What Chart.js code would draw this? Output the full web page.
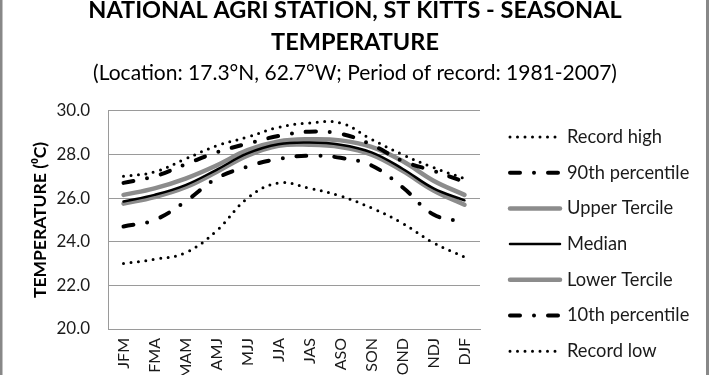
<!DOCTYPE html>
<html>
<head>
<meta charset="utf-8">
<script src="https://cdn.jsdelivr.net/npm/chart.js@4.4.1/dist/chart.umd.min.js"></script>
<style>
    html, body { margin: 0; padding: 0; background: #fff; overflow: hidden; }
    #wrap { width: 710px; height: 375px; overflow: hidden; }
    #chart { display: block; margin-top: -12px; }
</style>
</head>
<body>
<div id="wrap"><canvas id="chart" width="710" height="420"></canvas></div>
<script>
// seasons (3-month windows)
var seasons = ['JFM', 'FMA', 'MAM', 'AMJ', 'MJJ', 'JJA', 'JAS', 'ASO', 'SON', 'OND', 'NDJ', 'DJF'];

// temperatures in degC
var recordHigh   = [27.0, 27.2, 27.8, 28.4, 28.8, 29.25, 29.45, 29.45, 28.7, 28.0, 27.4, 26.9];
var pct90        = [26.7, 27.0, 27.55, 28.1, 28.5, 28.85, 29.05, 28.95, 28.45, 27.7, 27.25, 26.75];
var upperTercile = [26.15, 26.45, 26.9, 27.5, 28.2, 28.6, 28.7, 28.65, 28.35, 27.7, 26.8, 26.15];
var median       = [25.85, 26.15, 26.6, 27.3, 28.05, 28.47, 28.55, 28.45, 28.1, 27.35, 26.45, 25.9];
var lowerTercile = [25.75, 26.05, 26.5, 27.2, 27.95, 28.4, 28.45, 28.35, 28.0, 27.25, 26.35, 25.7];
var pct10        = [24.7, 25.0, 25.85, 26.9, 27.45, 27.8, 27.95, 27.85, 27.5, 26.5, 25.25, 24.9];
var recordLow    = [23.0, 23.2, 23.5, 24.5, 26.0, 26.7, 26.45, 26.1, 25.55, 24.85, 23.95, 23.3];

var yTicks = [20, 22, 24, 26, 28, 30];

var FONT = 'Lato, "Open Sans", sans-serif';
var GRID = '#9a9a9a';
var TERCILE = '#8c8c8c';

var dotted = [0, 7.5];
var dashDot = [10, 14, 0, 14];

function series(label, data, color, width, dash, order) {
    return {
        label: label,
        data: data,
        borderColor: color,
        borderWidth: width,
        borderDash: dash,
        borderCapStyle: 'round',
        borderJoinStyle: 'round',
        pointRadius: 0,
        pointHoverRadius: 0,
        tension: 0.4,
        fill: false,
        order: order
    };
}

// legend drawn by hand so it sits where the original one is
var sideLegend = {
    id: 'sideLegend',
    afterDraw: function (chart) {
        var ctx = chart.ctx;
        var x0 = 510, x1 = 560, tx = 567;
        var y = 149, step = 35.7;
        ctx.save();
        ctx.font = '18.3px ' + FONT;
        ctx.textBaseline = 'middle';
        chart.data.datasets.forEach(function (ds, i) {
            var yy = y + i * step;
            ctx.beginPath();
            ctx.setLineDash(ds.borderDash || []);
            ctx.lineCap = ds.borderCapStyle;
            ctx.lineWidth = ds.borderWidth;
            ctx.strokeStyle = ds.borderColor;
            ctx.moveTo(x0, yy);
            ctx.lineTo(x1, yy);
            ctx.stroke();
            ctx.setLineDash([]);
            ctx.fillStyle = '#1a1a1a';
            ctx.fillText(ds.label, tx, yy);
        });
        ctx.restore();
    }
};

// chart area frame (only the sides show in the original crop)
var frame = {
    id: 'frame',
    beforeDraw: function (chart) {
        var ctx = chart.ctx;
        ctx.save();
        ctx.fillStyle = '#fff';
        ctx.fillRect(0, 0, chart.width, chart.height);
        ctx.fillStyle = '#888';
        ctx.fillRect(0, 0, 2.5, chart.height);
        ctx.fillRect(706, 0, 3, chart.height);
        ctx.restore();
    }
};

new Chart(document.getElementById('chart').getContext('2d'), {
    type: 'line',
    data: {
        labels: seasons,
        datasets: [
            series('Record high', recordHigh, '#000', 3, dotted, 1),
            series('90th percentile', pct90, '#000', 4, dashDot, 1),
            series('Upper Tercile', upperTercile, TERCILE, 4.5, [], 2),
            series('Median', median, '#000', 2.5, [], 0),
            series('Lower Tercile', lowerTercile, TERCILE, 4.5, [], 2),
            series('10th percentile', pct10, '#000', 4, dashDot, 1),
            series('Record low', recordLow, '#000', 3, dotted, 1)
        ]
    },
    options: {
        responsive: false,
        animation: false,
        devicePixelRatio: 1,
        layout: {padding: 0},
        plugins: {
            legend: {display: false},
            tooltip: {enabled: false},
            title: {
                display: true,
                text: ['NATIONAL AGRI STATION, ST KITTS - SEASONAL', 'TEMPERATURE'],
                color: '#000',
                font: {family: FONT, size: 23.5, weight: 'bold', lineHeight: 1.36},
                padding: {top: 6, bottom: 0}
            },
            subtitle: {
                display: true,
                text: '(Location: 17.3\u00b0N, 62.7\u00b0W; Period of record: 1981-2007)',
                color: '#000',
                font: {family: FONT, size: 21, lineHeight: 1.2},
                padding: {top: 2.4, bottom: 25.4}
            }
        },
        scales: {
            x: {
                offset: true,
                grid: {display: false, drawTicks: false},
                border: {display: true, color: GRID},
                afterFit: function (scale) {
                    scale.height = 79;
                },
                ticks: {
                    autoSkip: false,
                    minRotation: 90,
                    maxRotation: 90,
                    padding: 9,
                    color: '#1a1a1a',
                    font: {family: FONT, size: 16}
                }
            },
            y: {
                min: 20,
                max: 30,
                afterBuildTicks: function (scale) {
                    scale.ticks = yTicks.map(function (v) { return {value: v}; });
                },
                afterFit: function (scale) {
                    scale.width = 108;
                },
                grid: {color: GRID, drawTicks: false},
                border: {display: true, color: GRID},
                ticks: {
                    padding: 18,
                    color: '#1a1a1a',
                    font: {family: FONT, size: 17},
                    callback: function (v) { return v.toFixed(1); }
                },
                title: {
                    display: true,
                    text: 'TEMPERATURE (\u2070C)',
                    color: '#000',
                    font: {family: FONT, size: 17.5, weight: 'bold', lineHeight: 1.2},
                    padding: {top: 30, bottom: 0}
                }
            },
            // empty right-hand axis that only reserves room for the legend
            legendSpace: {
                type: 'linear',
                position: 'right',
                grid: {display: false, drawTicks: false},
                border: {display: false},
                ticks: {display: false},
                afterFit: function (scale) {
                    scale.width = 230;
                }
            }
        }
    },
    plugins: [frame, sideLegend]
});
</script>
</body>
</html>
